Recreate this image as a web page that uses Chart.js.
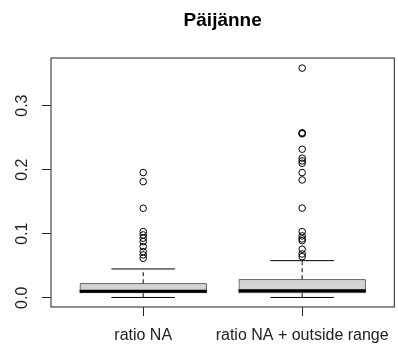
<!DOCTYPE html>
<html>
<head>
<meta charset="utf-8">
<script src="https://cdn.jsdelivr.net/npm/chart.js@4/dist/chart.umd.min.js"></script>
<style>
  html, body { margin: 0; padding: 0; background: #fff; overflow: hidden; }
  #wrap { width: 400px; height: 352px; }
</style>
</head>
<body>
<div id="wrap"><canvas id="chart"></canvas></div>
<script>
// boxplot data
const titleText = 'Päijänne';
const categories = ['ratio NA', 'ratio NA + outside range'];
const whiskerLow = [0.0005, 0.0005];
const q1 = [0.007, 0.007];
const median = [0.010, 0.011];
const q3 = [0.0227, 0.029];
const whiskerHigh = [0.045, 0.058];
const outliersNA = [0.1955, 0.1814, 0.1398, 0.1033, 0.0981, 0.093, 0.0877, 0.0798, 0.072, 0.0669, 0.0617];
const outliersRange = [0.3586, 0.257, 0.2575, 0.256, 0.232, 0.218, 0.2137, 0.21, 0.1955, 0.184, 0.14,
  0.1033, 0.0966, 0.092, 0.0892, 0.0758, 0.0684, 0.0642];
const yTicks = [0, 0.1, 0.2, 0.3];
const yRange = [-0.0144, 0.3744];
const xRange = [0.42, 2.58];

const FONT = '"Liberation Sans", Arial, sans-serif';
const INK = '#222';

// median, whiskers, frame, y labels and title
const boxExtras = {
  id: 'boxExtras',
  afterDatasetsDraw(chart) {
    const { ctx, chartArea, scales } = chart;
    const y = scales.y;
    const meta = chart.getDatasetMeta(0);
    ctx.save();
    meta.data.forEach((bar, i) => {
      const half = bar.width / 2;
      const cap = bar.width / 4;
      const yMed = y.getPixelForValue(median[i]);
      const yQ1 = y.getPixelForValue(q1[i]);
      const yQ3 = y.getPixelForValue(q3[i]);
      const yLo = y.getPixelForValue(whiskerLow[i]);
      const yHi = y.getPixelForValue(whiskerHigh[i]);

      ctx.strokeStyle = '#000';
      ctx.lineWidth = 1;
      ctx.setLineDash([4, 3]);
      ctx.beginPath();
      ctx.moveTo(bar.x, yQ3); ctx.lineTo(bar.x, yHi);
      ctx.moveTo(bar.x, yQ1); ctx.lineTo(bar.x, yLo);
      ctx.stroke();
      ctx.setLineDash([]);
      ctx.beginPath();
      ctx.moveTo(bar.x - cap, yHi); ctx.lineTo(bar.x + cap, yHi);
      ctx.moveTo(bar.x - cap, yLo); ctx.lineTo(bar.x + cap, yLo);
      ctx.stroke();

      ctx.lineWidth = 3;
      ctx.beginPath();
      ctx.moveTo(bar.x - half, yMed); ctx.lineTo(bar.x + half, yMed);
      ctx.stroke();
    });

    // plot frame
    ctx.strokeStyle = '#444';
    ctx.lineWidth = 1.2;
    ctx.strokeRect(chartArea.left, chartArea.top,
      chartArea.right - chartArea.left, chartArea.bottom - chartArea.top);

    // rotated y tick labels, R style
    ctx.fillStyle = INK;
    ctx.font = '16px ' + FONT;
    ctx.textAlign = 'center';
    ctx.textBaseline = 'middle';
    yTicks.forEach(v => {
      ctx.save();
      ctx.translate(23, y.getPixelForValue(v));
      ctx.rotate(-Math.PI / 2);
      ctx.fillText(v.toFixed(1), 0, 0);
      ctx.restore();
    });

    // title centred on the plot region
    ctx.fillStyle = '#000';
    ctx.font = 'bold 19px ' + FONT;
    ctx.fillText(titleText, (chartArea.left + chartArea.right) / 2, 21);
    ctx.restore();
  }
};

const toPoints = (vals, x) => vals.map(v => ({ x: x, y: v }));

new Chart(document.getElementById('chart'), {
  type: 'bar',
  data: {
    datasets: [
      {
        type: 'bar',
        data: categories.map((c, i) => ({ x: i + 1, y: [q1[i], q3[i]] })),
        backgroundColor: '#d3d3d3',
        borderColor: '#000',
        borderWidth: 1,
        borderSkipped: false,
        categoryPercentage: 1,
        barPercentage: 0.8
      },
      {
        type: 'scatter',
        data: toPoints(outliersNA, 1).concat(toPoints(outliersRange, 2)),
        pointStyle: 'circle',
        pointRadius: 3.3,
        pointBorderWidth: 1,
        pointBackgroundColor: 'rgba(0,0,0,0)',
        pointBorderColor: '#000'
      }
    ]
  },
  options: {
    responsive: true,
    maintainAspectRatio: false,
    animation: false,
    layout: { padding: { left: 0, right: 0, top: 58, bottom: 0 } },
    plugins: {
      legend: { display: false },
      title: { display: false },
      tooltip: { enabled: false }
    },
    scales: {
      x: {
        type: 'linear',
        offset: false,
        min: xRange[0],
        max: xRange[1],
        afterBuildTicks(scale) { scale.ticks = categories.map((c, i) => ({ value: i + 1 })); },
        afterFit(scale) { scale.height = 45; },
        border: { display: false },
        grid: { offset: false, drawOnChartArea: false, drawTicks: true, tickLength: 9, color: INK },
        ticks: {
          padding: 10,
          color: INK,
          maxRotation: 0,
          autoSkip: false,
          font: { family: FONT, size: 16 },
          callback: function(v) { return categories[Math.round(v) - 1] || ''; }
        }
      },
      y: {
        min: yRange[0],
        max: yRange[1],
        afterBuildTicks(scale) { scale.ticks = yTicks.map(v => ({ value: v })); },
        afterFit(scale) { scale.width = 51; },
        border: { display: false },
        grid: { drawOnChartArea: false, drawTicks: true, tickLength: 9, color: INK },
        ticks: { display: false }
      }
    }
  },
  plugins: [boxExtras]
});
</script>
</body>
</html>
